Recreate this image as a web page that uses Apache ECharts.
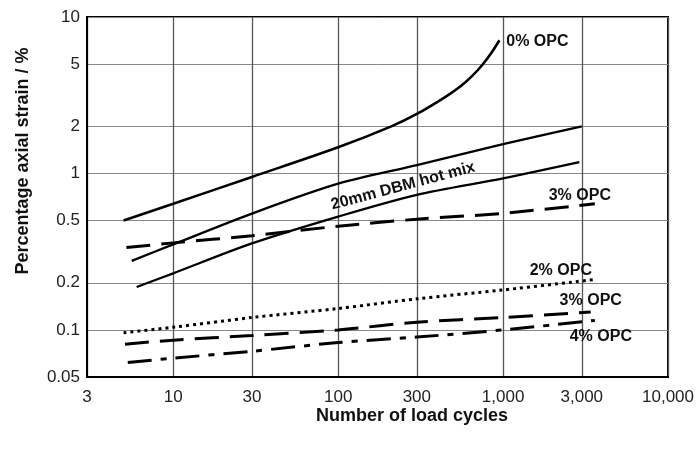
<!DOCTYPE html>
<html>
<head>
<meta charset="utf-8">
<script src="https://cdn.jsdelivr.net/npm/echarts@6/dist/echarts.min.js"></script>
<style>
  html, body { margin: 0; padding: 0; background: #fff; }
  #chart { width: 698px; height: 450px; }
</style>
</head>
<body>
<div id="chart"></div>
<script>
// Axis tick values (log-log plot)
const xTicks = [3, 10, 30, 100, 300, 1000, 3000, 10000];
const yTicks = [0.05, 0.1, 0.2, 0.5, 1, 2, 5, 10];

// Permanent axial strain (%) against number of load cycles
const opc0Cycles = [5, 10, 30, 100, 210, 300, 450, 560, 650, 750, 850, 950];
const opc0Strain = [0.5, 0.64, 0.95, 1.47, 2.0, 2.4, 3.1, 3.65, 4.2, 4.95, 5.9, 7.1];

const dbmUpperCycles = [5.6, 10, 30, 100, 300, 1000, 3000];
const dbmUpperStrain = [0.276, 0.352, 0.554, 0.86, 1.13, 1.54, 2.0];

const dbmLowerCycles = [6, 10, 30, 100, 300, 1000, 2900];
const dbmLowerStrain = [0.188, 0.23, 0.357, 0.53, 0.73, 0.93, 1.18];

const opc3aCycles = [5.2, 10, 30, 100, 300, 1000, 3600];
const opc3aStrain = [0.336, 0.36, 0.40, 0.46, 0.51, 0.556, 0.64];

const opc2Cycles = [5, 10, 30, 100, 300, 1000, 3600];
const opc2Strain = [0.096, 0.104, 0.12, 0.137, 0.158, 0.18, 0.21];

const opc3bCycles = [5.1, 10, 30, 100, 300, 1000, 3400];
const opc3bStrain = [0.081, 0.086, 0.092, 0.1, 0.112, 0.12, 0.13];

const opc4Cycles = [5.3, 10, 30, 100, 300, 1000, 3600];
const opc4Strain = [0.062, 0.066, 0.073, 0.083, 0.09, 0.1, 0.115];

const FONT = "'Liberation Sans', Arial, Helvetica, sans-serif";

function pairs(xs, ys) {
  return xs.map((x, i) => [x, ys[i]]);
}

function withCommas(v) {
  return String(Math.round(v)).replace(/\B(?=(\d{3})+(?!\d))/g, ',');
}

// Text placed relative to a point of the curve, shifted by a pixel offset
function curveLabel(point, text, offset, rotate) {
  return {
    symbol: 'circle',
    symbolSize: 0,
    silent: true,
    itemStyle: { color: 'transparent' },
    label: {
      show: true,
      position: 'inside',
      formatter: text,
      offset: offset,
      rotate: rotate || 0,
      fontFamily: FONT,
      fontWeight: 'bold',
      fontSize: 16,
      color: '#111'
    },
    data: [{ coord: point }]
  };
}

function lastOf(xs, ys) {
  return [xs[xs.length - 1], ys[ys.length - 1]];
}

function curve(name, xs, ys, lineStyle, markPoint) {
  return {
    name: name,
    type: 'line',
    data: pairs(xs, ys),
    showSymbol: false,
    symbol: 'none',
    smooth: 0.3,
    clip: false,
    lineStyle: Object.assign({ color: '#000', width: 2.6, cap: 'butt' }, lineStyle),
    markPoint: markPoint
  };
}

const chart = echarts.init(document.getElementById('chart'), null, { renderer: 'canvas' });

chart.setOption({
  animation: false,
  backgroundColor: '#fff',
  grid: {
    left: 87, top: 17, width: 581, height: 360,
    show: true, borderColor: '#000', borderWidth: 2
  },
  xAxis: {
    type: 'log',
    logBase: 10,
    min: 3,
    max: 10000,
    axisLine: { show: true, lineStyle: { color: '#000', width: 2 } },
    axisTick: { show: false, customValues: xTicks },
    axisLabel: {
      customValues: xTicks,
      formatter: v => withCommas(v),
      fontFamily: FONT, fontSize: 17, color: '#222', margin: 12
    },
    splitLine: { show: true, lineStyle: { color: '#555', width: 1.3 } },
    minorSplitLine: { show: false }
  },
  yAxis: {
    type: 'log',
    logBase: 10,
    min: 0.05,
    max: 10,
    axisLine: { show: true, lineStyle: { color: '#000', width: 2 } },
    axisTick: { show: false, customValues: yTicks },
    axisLabel: {
      customValues: yTicks,
      formatter: v => String(+v.toPrecision(3)),
      fontFamily: FONT, fontSize: 17, color: '#222', margin: 7
    },
    splitLine: { show: true, lineStyle: { color: '#888', width: 1 } }
  },
  graphic: [
    {
      type: 'text',
      x: 412, y: 416,
      style: {
        text: 'Number of load cycles',
        font: "bold 18px " + FONT,
        fill: '#111',
        align: 'center',
        verticalAlign: 'middle'
      }
    },
    {
      type: 'text',
      x: 23, y: 161,
      rotation: Math.PI / 2,
      style: {
        text: 'Percentage axial strain / %',
        font: "bold 18px " + FONT,
        fill: '#111',
        align: 'center',
        verticalAlign: 'middle'
      }
    }
  ],
  series: [
    curve('0% OPC', opc0Cycles, opc0Strain, {},
      curveLabel(lastOf(opc0Cycles, opc0Strain), '0% OPC', [38, 1])),
    curve('20mm DBM hot mix (upper)', dbmUpperCycles, dbmUpperStrain, { width: 2.3 }),
    curve('20mm DBM hot mix', dbmLowerCycles, dbmLowerStrain, { width: 2.3 },
      curveLabel([dbmLowerCycles[4], dbmLowerStrain[4]], '20mm DBM hot mix', [-11, -12], 15)),
    curve('3% OPC (upper)', opc3aCycles, opc3aStrain, { width: 3, type: [24, 11] },
      curveLabel(lastOf(opc3aCycles, opc3aStrain), '3% OPC', [-15, -8])),
    curve('2% OPC', opc2Cycles, opc2Strain, { width: 3, type: [3, 4] },
      curveLabel(lastOf(opc2Cycles, opc2Strain), '2% OPC', [-34, -9])),
    curve('3% OPC', opc3bCycles, opc3bStrain, { width: 3, type: [24, 11] },
      curveLabel(lastOf(opc3bCycles, opc3bStrain), '3% OPC', [0, -11])),
    curve('4% OPC', opc4Cycles, opc4Strain, { width: 3, type: [24, 9, 6, 9] },
      curveLabel(lastOf(opc4Cycles, opc4Strain), '4% OPC', [6, 16]))
  ]
});
</script>
</body>
</html>
